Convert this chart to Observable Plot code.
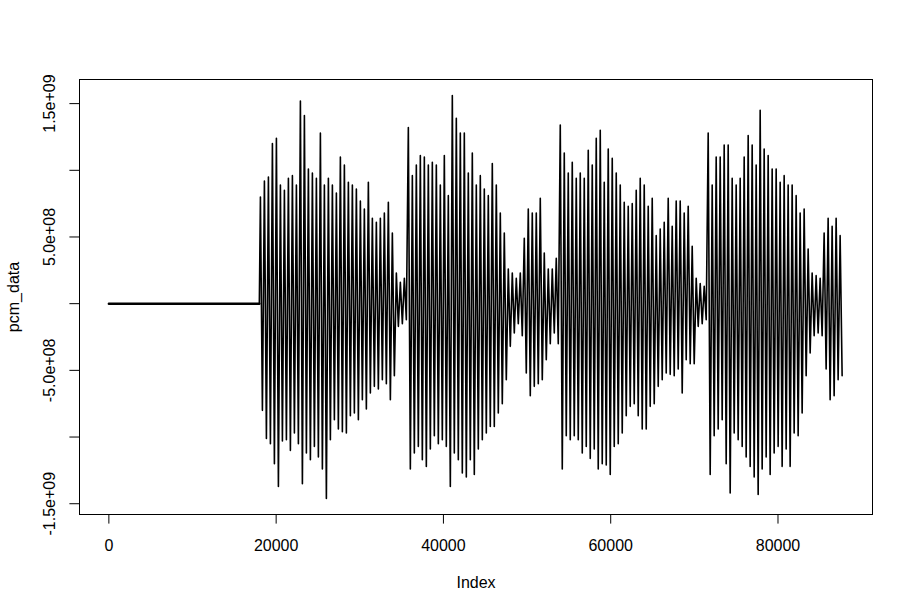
<!DOCTYPE html>
<html><head><meta charset="utf-8">
<script src="https://cdn.jsdelivr.net/npm/d3@7"></script>
<script src="https://cdn.jsdelivr.net/npm/@observablehq/plot@0.6"></script>
<style>body{margin:0;background:#fff} svg{display:block}</style>
</head><body><div id="chart"></div>
<script>
// Leading silence (flat segment)
const silenceIndex = [1, 17990];
const silenceValue = [0, 0];
// Envelope of the waveform: one max and one min per bin
const envStart = 18000;
const envStep = 478;
const envUnit = 1e8;
const envMax = [
  8.0, 9.2, 9.5, 12.0, 12.4, 8.9, 8.5, 9.4, 9.6, 8.9,
  15.2, 14.1, 10.1, 9.8, 9.4, 12.8, 8.9, 9.4, 8.9, 8.3,
  11.0, 10.4, 9.1, 8.9, 8.6, 7.7, 7.1, 9.1, 6.4, 6.1,
  6.4, 6.8, 7.6, 5.3, 2.3, 1.6, 1.9, 13.2, 9.6, 10.4,
  11.1, 11.0, 10.4, 10.6, 10.4, 8.9, 11.1, 8.1, 15.6, 13.9,
  12.8, 12.8, 9.8, 11.3, 8.9, 9.6, 8.6, 8.1, 10.5, 8.9,
  6.8, 5.3, 2.6, 2.3, 1.9, 2.3, 4.9, 7.1, 6.8, 6.8,
  7.9, 3.8, 2.6, 2.6, 3.4, 13.4, 11.3, 9.8, 10.6, 9.4,
  9.8, 9.4, 11.5, 10.4, 12.4, 13.0, 9.1, 11.6, 10.9, 9.8,
  8.9, 7.6, 7.3, 7.5, 8.5, 9.4, 8.9, 7.3, 7.9, 5.1,
  5.6, 6.1, 7.9, 5.8, 7.7, 7.7, 6.8, 7.3, 4.3, 1.9,
  1.5, 1.3, 12.8, 8.9, 11.0, 11.0, 11.9, 11.9, 9.4, 8.9,
  9.4, 11.0, 12.6, 11.9, 10.4, 14.5, 11.6, 11.1, 10.1, 10.1,
  9.1, 9.6, 8.9, 8.9, 8.1, 6.8, 7.1, 4.1, 2.3, 2.1,
  1.9, 5.3, 6.4, 5.8, 6.4, 5.1
];
const envMin = [
  -8.0, -10.1, -10.5, -12.0, -13.7, -10.3, -10.2, -11.0, -9.7, -10.5,
  -13.5, -11.2, -11.7, -10.7, -11.5, -12.4, -14.6, -10.2, -8.7, -9.4,
  -9.6, -9.7, -8.4, -8.2, -8.7, -7.2, -7.9, -6.7, -6.2, -6.4,
  -5.7, -6.0, -7.2, -5.4, -1.7, -1.5, -1.2, -12.4, -11.2, -10.7,
  -11.7, -12.2, -10.9, -9.9, -10.5, -10.2, -10.7, -13.7, -11.2, -11.7,
  -12.7, -13.0, -11.7, -12.8, -10.9, -10.2, -9.7, -9.2, -9.2, -8.2,
  -7.5, -5.7, -3.2, -2.2, -1.5, -2.4, -5.2, -6.9, -6.2, -6.0,
  -5.7, -4.2, -3.0, -2.2, -3.0, -12.4, -9.9, -10.2, -9.9, -10.2,
  -11.2, -10.7, -11.6, -10.9, -12.4, -12.0, -12.1, -12.8, -10.7, -10.5,
  -9.7, -8.4, -7.7, -7.5, -8.4, -9.4, -9.4, -7.7, -7.5, -6.2,
  -5.7, -5.2, -5.3, -5.4, -4.9, -6.7, -4.2, -4.5, -4.5, -1.7,
  -1.5, -1.2, -12.8, -9.9, -9.4, -8.7, -12.0, -14.2, -9.7, -10.2,
  -10.7, -11.5, -12.2, -13.0, -14.3, -12.4, -11.5, -12.8, -11.2, -10.7,
  -12.2, -10.9, -12.2, -9.7, -9.9, -8.2, -5.4, -3.7, -2.4, -2.2,
  -2.4, -4.9, -7.2, -6.9, -5.7, -5.4
];
const xTicks = [0, 20000, 40000, 60000, 80000];
const yTicks = [-1.5e9, -1e9, -5e8, 0, 5e8, 1e9, 1.5e9];
const yTickLabels = ["-1.5e+09", "", "-5.0e+08", "", "5.0e+08", "", "1.5e+09"];

const silence = silenceIndex.map((i, j) => ({index: i, value: silenceValue[j]}));
const wave = [silence[silence.length - 1]];
envMax.forEach((m, k) => {
  wave.push({index: envStart + envStep * k + envStep * 0.25, value: m * envUnit});
  wave.push({index: envStart + envStep * k + envStep * 0.75, value: envMin[k] * envUnit});
});
const n = envStart + envStep * envMax.length;
const xlim = [1 - 0.04 * (n - 1), n + 0.04 * (n - 1)];
const all = silence.concat(wave);
const ymax = d3.max(all, d => d.value), ymin = d3.min(all, d => d.value);
const r = ymax - ymin;
const ylim = [ymin - 0.04 * r, ymax + 0.04 * r];
const font = "'Liberation Sans', Arial, Helvetica, sans-serif";

const chart = Plot.plot({
  width: 912, height: 612,
  marginLeft: 79, marginRight: 40, marginTop: 79, marginBottom: 98,
  style: {fontFamily: font, fontSize: "16px", background: "white", color: "black"},
  x: {domain: xlim},
  y: {domain: ylim},
  marks: [
    Plot.line(silence, {x: "index", y: "value", stroke: "black", strokeWidth: 2.5}),
    Plot.line(wave, {x: "index", y: "value", stroke: "black", strokeWidth: 1.6}),
    Plot.frame({stroke: "black"}),
    Plot.axisX(xTicks, {tickSize: 9.6, tickPadding: 16, fontSize: 16, label: null, tickFormat: d => String(d)}),
    Plot.axisY(yTicks, {tickSize: 9.6, tickFormat: () => "", label: null}),
    Plot.text(yTicks, {y: d => d, text: (d, i) => yTickLabels[i], frameAnchor: "left", textAnchor: "middle", lineAnchor: "middle", dx: -30, rotate: -90, fontSize: 16, fill: "black"}),
    Plot.text(["Index"], {frameAnchor: "bottom", lineAnchor: "middle", dy: 68, fontSize: 16, fill: "black"}),
    Plot.text(["pcm_data"], {frameAnchor: "left", textAnchor: "middle", lineAnchor: "middle", dx: -66, rotate: -90, fontSize: 16, fill: "black"})
  ]
});
document.getElementById("chart").appendChild(chart);
</script>
</body></html>
